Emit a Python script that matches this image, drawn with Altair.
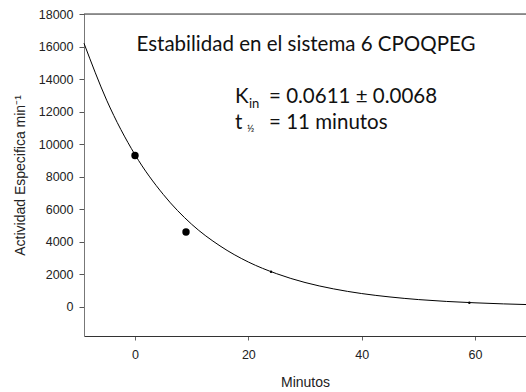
import altair as alt
import pandas as pd

# measured points
pt_x = [0, 9]
pt_y = [9300, 4600]
small_x = [24, 59]
small_y = [2150, 240]

# fitted curve
curve_x = [-9, -5, 0, 5, 10, 15, 20, 25, 30, 35, 40, 45, 50, 55, 60, 65, 69]
curve_y = [16200, 12700, 9350, 6900, 5070, 3740, 2750, 2030, 1490, 1100, 810, 600, 440, 325, 240, 175, 135]

x_ticks = [0, 20, 40, 60]
y_ticks = list(range(0, 18001, 2000))

pts = pd.DataFrame({"x": pt_x, "y": pt_y})
small = pd.DataFrame({"x": small_x, "y": small_y})
curve = pd.DataFrame({"x": curve_x, "y": curve_y})

W, H = 442, 322
FONT = "Liberation Sans"
TFONT = "Lato"

xs = alt.Scale(domain=[-9, 69], nice=False, zero=False)
ys = alt.Scale(domain=[-1800, 18000], nice=False, zero=False)

xax = alt.Axis(values=x_ticks, title="Minutos", grid=False, domainColor="#333333",
               tickColor="#666666", tickSize=4, labelFont=FONT, labelFontSize=12.5,
               labelColor="#222222", titleFont=FONT, titleFontSize=14, titleFontWeight="normal",
               titleColor="#222222", labelPadding=8, titlePadding=15, format="d",
               labelOverlap=False)
yax = alt.Axis(values=y_ticks, title="Actividad Especifica min⁻¹", grid=False,
               domainColor="#777777", tickColor="#555555", tickSize=5, labelFont=FONT,
               labelFontSize=12.5, labelColor="#222222", titleFont=FONT, titleFontSize=14,
               titleFontWeight="normal", titleColor="#222222", labelPadding=6, titlePadding=11,
               format="d", labelOverlap=False)

X = alt.X("x:Q", scale=xs, axis=xax)
Y = alt.Y("y:Q", scale=ys, axis=yax)

line = alt.Chart(curve).mark_line(color="black", strokeWidth=1, interpolate="monotone").encode(
    x=X, y=Y)
dots = alt.Chart(pts).mark_circle(color="black", size=55, opacity=1).encode(x=X, y=Y)
sdots = alt.Chart(small).mark_circle(color="black", size=6, opacity=1).encode(x=X, y=Y)

top = alt.Chart(pd.DataFrame({"a": [0]})).mark_rule(color="#333333", strokeWidth=1).encode(
    x=alt.value(0), x2=alt.value(W), y=alt.value(0))

def txt(s, x, y, size, align="left"):
    return alt.Chart(pd.DataFrame({"t": [s]})).mark_text(
        font=TFONT, fontSize=size, align=align, baseline="alphabetic", color="#111111").encode(
        text="t:N", x=alt.value(x), y=alt.value(y))

texts = [
    txt("Estabilidad en el sistema 6 CPOQPEG", 222, 37, 20.5, "center"),
    txt("K", 151, 89, 20.5),
    txt("in", 165, 94, 13),
    txt("= 0.0611 ± 0.0068", 185, 89, 20.5),
    txt("t", 151, 115, 20.5),
    txt("½", 163, 118, 10),
    txt("= 11 minutos", 185, 115, 20.5),
]

chart = alt.layer(dots, sdots, line, top, *texts).properties(
    width=W, height=H,
    autosize=alt.AutoSizeParams(type="none"),
    padding={"left": 84, "top": 14, "right": 0, "bottom": 56},
).configure_view(stroke=None).configure(background="white")

chart.save("out.html", embed_options={"renderer": "svg", "actions": False})
